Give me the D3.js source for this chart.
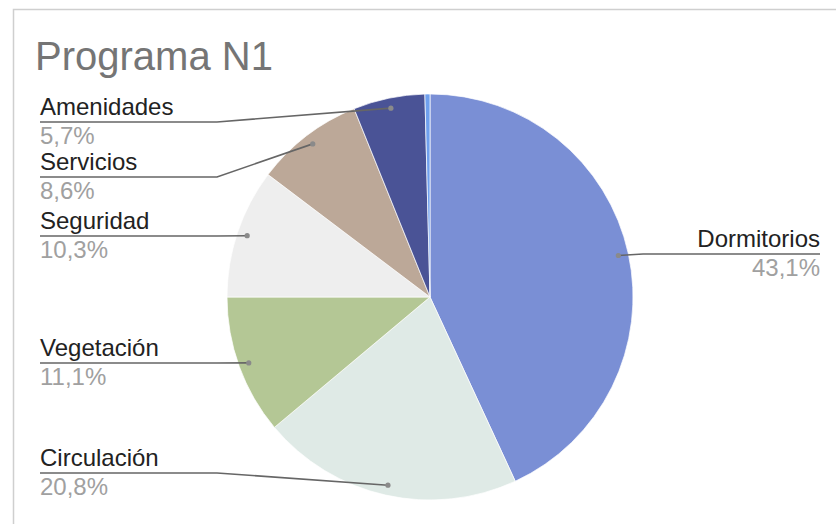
<!DOCTYPE html>
<html>
<head>
<meta charset="utf-8">
<script src="https://cdn.jsdelivr.net/npm/d3@7"></script>
<style>
  body { margin: 0; background: #fff; }
</style>
</head>
<body>
<div id="chart"></div>
<script>
// data
const categories = ["Dormitorios", "Circulación", "Vegetación", "Seguridad", "Servicios", "Amenidades", "Otros"];
const values = [43.1, 20.8, 11.1, 10.3, 8.6, 5.7, 0.4];
const colors = ["#7a8fd5", "#dfeae6", "#b4c795", "#eeeeee", "#bca898", "#4a5396", "#6fa0ee"];
// y of each label's leader line (null = no label)
const labelLineY = [254, 473, 363, 236, 177, 122, null];

function init() {
    let width = 836, height = 524;
    let cx = 430, cy = 297, radius = 203;

    let svg = d3.select("#chart")
        .append("svg")
        .attr("width", width)
        .attr("height", height)
        .style("background-color", "#fff");

    // card border
    svg.append("path")
        .attr("d", "M13.5," + height + " L13.5,9.5 L" + width + ",9.5")
        .attr("fill", "none")
        .attr("stroke", "#cfcfcf")
        .attr("stroke-width", 1.5);

    svg.append("text")
        .attr("x", 35)
        .attr("y", 70)
        .text("Programa N1")
        .attr("font-family", "'Liberation Sans', Arial, sans-serif")
        .attr("font-size", 40)
        .attr("fill", "#757575");

    let pie = d3.pie().sort(null).value(d => d);
    let arcs = pie(values);

    let arc = d3.arc().innerRadius(0).outerRadius(radius);
    let dotArc = d3.arc().innerRadius(radius * 0.95).outerRadius(radius * 0.95);

    let g = svg.append("g")
        .attr("transform", "translate(" + cx + "," + cy + ")");

    g.selectAll("path.slice")
        .data(arcs)
        .enter()
        .append("path")
        .attr("class", "slice")
        .attr("d", arc)
        .attr("fill", (d, i) => colors[i])
        .attr("stroke", "#fff")
        .attr("stroke-width", 0.7);

    let fmt = v => d3.format(".1f")(v).replace(".", ",") + "%";

    arcs.forEach(function (d, i) {
        if (labelLineY[i] === null) return;
        let [dx, dy] = dotArc.centroid(d);
        let px = cx + dx, py = cy + dy;
        let ly = labelLineY[i];
        let right = dx > 0;
        let elbowX = right ? cx + radius + 10 : cx - radius - 10;
        let endX = right ? 820 : 40;

        let pts = [[endX, ly], [elbowX, ly], [px, py]];
        if ((right && px > elbowX) || (!right && px < elbowX)) pts = [[endX, ly], [px, py]];

        svg.append("path")
            .attr("d", d3.line()(pts))
            .attr("fill", "none")
            .attr("stroke", "#666")
            .attr("stroke-width", 1.6);

        svg.append("circle")
            .attr("cx", px)
            .attr("cy", py)
            .attr("r", 2.6)
            .attr("fill", "#8a8a8a");

        svg.append("text")
            .attr("x", endX)
            .attr("y", ly - 7)
            .attr("text-anchor", right ? "end" : "start")
            .text(categories[i])
            .attr("font-family", "'Liberation Sans', Arial, sans-serif")
            .attr("font-size", 24)
            .attr("fill", "#222");

        svg.append("text")
            .attr("x", endX)
            .attr("y", ly + 22)
            .attr("text-anchor", right ? "end" : "start")
            .text(fmt(values[i]))
            .attr("font-family", "'Liberation Sans', Arial, sans-serif")
            .attr("font-size", 24)
            .attr("fill", "#a0a0a0");
    });
}

init();
</script>
</body>
</html>
